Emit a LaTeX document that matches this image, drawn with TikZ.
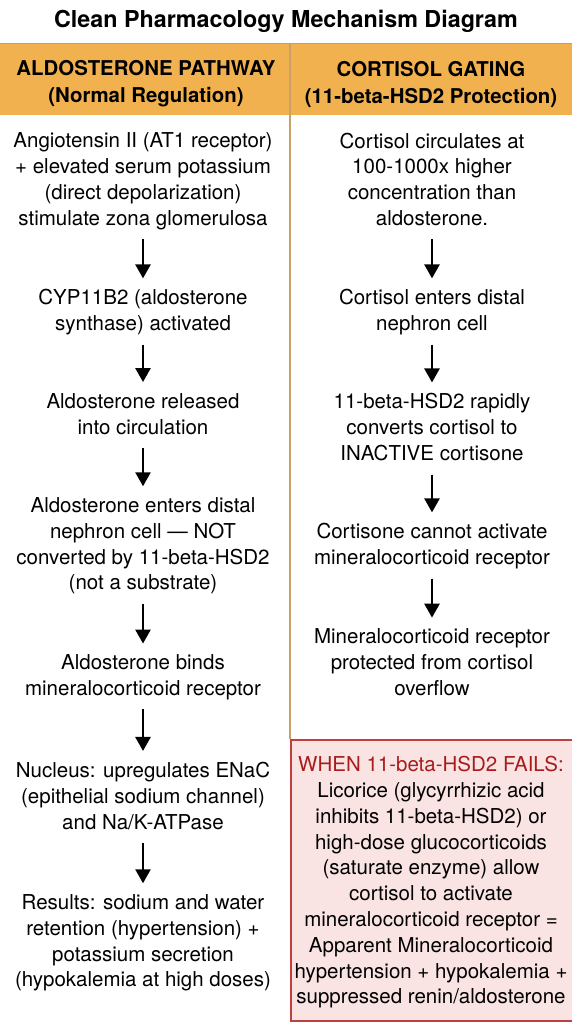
\documentclass[tikz,border=0pt]{standalone}
\usepackage{fontspec}
\setmainfont{TeX Gyre Heros}
\usetikzlibrary{arrows.meta}
\definecolor{band}{HTML}{F0B14E}
\definecolor{bandline}{HTML}{D99B3A}
\definecolor{divider}{HTML}{C9A066}
\definecolor{failfill}{HTML}{FAE3E3}
\definecolor{failborder}{HTML}{C0403F}
\definecolor{failred}{HTML}{A81C1C}
\begin{document}
\begin{tikzpicture}[x=1pt,y=-1pt,
  body/.style={font=\fontsize{20.5}{25.8}\selectfont, align=center, inner sep=0pt,
    execute at begin node=\strut, execute at end node=\strut},
  hdr/.style={font=\fontsize{20.4}{27}\selectfont\bfseries, align=center, inner sep=0pt},
  flow/.style={-{Triangle[width=15pt,length=14pt]}, line width=2.6pt,
    shorten <=6pt, shorten >=11pt}]
\useasboundingbox (0,0) rectangle (572,1024);
\fill[white] (0,0) rectangle (572,1024);
% title
\node[font=\fontsize{23.3}{28}\selectfont\bfseries, inner sep=0pt] (title) at (286,21) {Clean Pharmacology Mechanism Diagram};
% header band
\fill[band] (0,43) rectangle (572,115);
\draw[bandline, line width=1pt] (0,43.5) -- (572,43.5);
\draw[divider, line width=1.5pt] (290,43) -- (290,739);
\node[hdr] (hl) at (146,84) {ALDOSTERONE PATHWAY\\(Normal Regulation)};
\node[hdr] (hr) at (431,84) {CORTISOL GATING\\(11-beta-HSD2 Protection)};
% left column
\node[body] (L1) at (143,183) {Angiotensin II (AT1 receptor)\\+ elevated serum potassium\\(direct depolarization)\\stimulate zona glomerulosa};
\node[body] (L2) at (143,314) {CYP11B2 (aldosterone\\synthase) activated};
\node[body] (L3) at (143,417.5) {Aldosterone released\\into circulation};
\node[body] (L4) at (143,547.5) {Aldosterone enters distal\\nephron cell — NOT\\converted by 11-beta-HSD2\\(not a substrate)};
\node[body] (L5) at (143,679) {Aldosterone binds\\mineralocorticoid receptor};
\node[body] (L6) at (143,799.5) {Nucleus: upregulates ENaC\\(epithelial sodium channel)\\and Na/K-ATPase};
\node[body] (L7) at (143,944.5) {Results: sodium and water\\retention (hypertension) +\\potassium secretion\\(hypokalemia at high doses)};
\foreach \a/\b in {L1/L2,L2/L3,L3/L4,L4/L5,L5/L6,L6/L7}
  \draw[flow] (\a.south) -- (\b.north);
% right column
\node[body] (R1) at (432,183) {Cortisol circulates at\\100-1000x higher\\concentration than\\aldosterone.};
\node[body] (R2) at (432,314) {Cortisol enters distal\\nephron cell};
\node[body] (R3) at (432,431) {11-beta-HSD2 rapidly\\converts cortisol to\\INACTIVE cortisone};
\node[body] (R4) at (432,548) {Cortisone cannot activate\\mineralocorticoid receptor};
\node[body] (R5) at (432,666) {Mineralocorticoid receptor\\protected from cortisol\\overflow};
\foreach \a/\b in {R1/R2,R2/R3,R3/R4,R4/R5}
  \draw[flow] (\a.south) -- (\b.north);
% failure box
\node[draw=failborder, line width=2pt, fill=failfill, minimum width=286pt, minimum height=281pt,
  inner sep=0pt, anchor=north west] (failbox) at (290,739) {};
\node[body] (fail) at (431,884) {\textcolor{failred}{WHEN 11-beta-HSD2 FAILS:}\\Licorice (glycyrrhizic acid\\inhibits 11-beta-HSD2) or\\high-dose glucocorticoids\\(saturate enzyme) allow\\cortisol to activate\\mineralocorticoid receptor =\\Apparent Mineralocorticoid\\hypertension + hypokalemia +\\suppressed renin/aldosterone};
\end{tikzpicture}
\end{document}
